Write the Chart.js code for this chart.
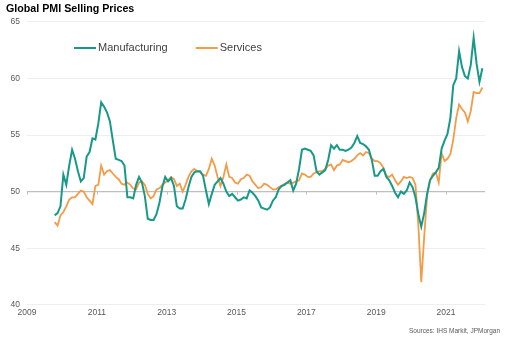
<!DOCTYPE html>
<html>
<head>
<meta charset="utf-8">
<script src="https://cdn.jsdelivr.net/npm/chart.js@4.4.1/dist/chart.umd.min.js"></script>
<style>
  html, body { margin: 0; padding: 0; background: #fff; }
  #wrap { width: 513px; height: 341px; }
</style>
</head>
<body>
<div id="wrap"><canvas id="pmi" width="513" height="341"></canvas></div>
<script>
// Données : indices mensuels, d'octobre 2009 à janvier 2022
const firstYear = 2009;
const firstMonth = 10; // octobre

const manufacturing = [
  47.9, 48.1, 48.7,
  51.5, 50.6, 52.3, 53.7, 52.9, 51.8, 50.9, 51.2, 53.1, 53.5, 54.7, 54.6,
  56.0, 57.9, 57.5, 57.0, 56.2, 54.5, 52.9, 52.8, 52.7, 52.3, 49.5, 49.5,
  49.4, 50.6, 51.3, 50.8, 49.6, 47.6, 47.5, 47.5, 48.0, 49.0, 50.4, 51.3,
  50.9, 51.2, 50.5, 48.7, 48.5, 48.5, 49.3, 50.4, 51.3, 51.7, 51.8, 51.8,
  51.4, 50.1, 48.9, 49.8, 50.6, 50.9, 51.2, 50.7, 50.0, 49.6, 49.8, 49.5,
  49.2, 49.3, 49.5, 49.4, 50.1, 49.9, 49.6, 49.2, 48.6, 48.5, 48.4, 48.6,
  49.2, 49.5, 50.2, 50.5, 50.6, 50.8, 51.0, 50.1, 50.7, 52.0, 53.7, 53.8,
  53.7, 53.6, 53.2, 51.8, 51.5, 51.7, 51.9, 52.8, 54.1, 53.8, 54.1, 53.7,
  53.7, 53.6, 53.7, 53.9, 54.3, 54.9, 54.3, 54.2, 54.0, 53.7, 52.8, 51.4,
  51.4, 51.8, 52.0, 51.3, 51.0, 50.5, 49.9, 49.5, 50.0, 49.8, 50.1, 50.8,
  50.4, 49.5, 48.0, 46.9, 48.1, 49.8, 51.0, 51.4, 51.7, 52.1, 53.8, 54.5,
  55.1, 56.5, 59.4, 60.0, 62.4, 61.0, 60.2, 60.0, 61.2, 63.6, 61.3, 59.7,
  60.9
];

const services = [
  47.3, 47.0, 47.9,
  48.2, 48.7, 49.3, 49.5, 49.5, 49.8, 50.1, 50.0, 49.5, 49.2, 48.9, 50.5,
  50.6, 52.3, 51.5, 51.8, 51.9, 51.6, 51.3, 51.1, 50.7, 50.6, 50.8, 50.6,
  50.3, 50.2, 50.8, 50.9, 50.6, 49.8, 49.4, 49.6, 50.2, 50.3, 50.6, 50.8,
  51.0, 51.3, 51.1, 50.5, 50.7, 50.0, 50.6, 51.3, 51.8, 52.0, 51.8, 51.7,
  51.5, 51.4, 52.0, 52.9, 52.3, 51.3, 50.5, 51.3, 52.4, 51.3, 51.2, 50.8,
  50.7, 51.1, 51.2, 51.5, 51.4, 50.9, 50.6, 50.3, 50.4, 50.7, 50.6, 50.4,
  50.2, 50.2, 50.4, 50.5, 50.7, 50.8, 50.7, 50.8, 50.9, 51.0, 51.6, 51.5,
  51.3, 51.3, 51.6, 51.7, 51.8, 51.8, 52.0, 52.3, 52.4, 51.9, 52.3, 52.4,
  52.8, 52.7, 52.6, 52.7, 52.9, 53.2, 53.4, 53.2, 53.5, 53.4, 52.9, 52.7,
  52.7, 52.5, 52.1, 51.4, 51.3, 51.5, 51.0, 50.6, 50.9, 51.3, 51.2, 51.3,
  51.2, 50.6, 47.0, 42.0, 46.0, 49.6, 51.0, 51.6, 51.7, 50.8, 53.4, 52.7,
  52.9, 53.3, 54.6, 56.5, 57.7, 57.3, 57.0, 56.2, 57.1, 58.8, 58.7, 58.7,
  59.2
];

// Étiquettes de l'axe horizontal
const yearTicks = [2009, 2011, 2013, 2015, 2017, 2019, 2021];
const xEnd = 157.4; // fin de l'axe, en mois depuis janvier 2009

const seriesLabels = ["Manufacturing", "Services"];
const seriesColors = ["#17998a", "#f39c48"];

const fontFamily = "'Liberation Sans', Arial, sans-serif";

// Points placés au milieu de chaque mois
function toPoints(values) {
  const start = (firstMonth - 1);
  return values.map((v, i) => ({ x: start + i + 0.5, y: v }));
}

// Légende dans la zone du graphique + source + graduations sur l'axe à 50
const extras = {
  id: 'extras',
  afterDatasetsDraw(chart) {
    const ctx = chart.ctx;
    const x = chart.scales.x;
    const y = chart.scales.y;

    // Petites graduations sur la ligne 50
    const y50 = y.getPixelForValue(50);
    ctx.save();
    ctx.strokeStyle = '#bfbfbf';
    ctx.lineWidth = 1;
    yearTicks.forEach(yr => {
      const px = Math.round(x.getPixelForValue((yr - firstYear) * 12)) + 0.5;
      ctx.beginPath();
      ctx.moveTo(px, y50);
      ctx.lineTo(px, y50 + 3);
      ctx.stroke();
    });

    // Légende
    ctx.font = "11px " + fontFamily;
    ctx.textBaseline = 'middle';
    ctx.textAlign = 'left';
    let lx = 74;
    const ly = 48;
    chart.data.datasets.forEach(ds => {
      ctx.strokeStyle = ds.borderColor;
      ctx.lineWidth = 2;
      ctx.beginPath();
      ctx.moveTo(lx, ly);
      ctx.lineTo(lx + 22, ly);
      ctx.stroke();
      ctx.fillStyle = '#404040';
      ctx.fillText(ds.label, lx + 24, ly);
      lx += 24 + ctx.measureText(ds.label).width + 28;
    });

    // Source
    ctx.font = "6.5px " + fontFamily;
    ctx.fillStyle = '#595959';
    ctx.textAlign = 'right';
    ctx.fillText('Sources: IHS Markit, JPMorgan', 500, 331);
    ctx.restore();
  }
};

new Chart(document.getElementById('pmi'), {
  type: 'line',
  data: {
    datasets: [
      {
        label: seriesLabels[0],
        data: toPoints(manufacturing),
        borderColor: seriesColors[0],
        backgroundColor: seriesColors[0],
        borderWidth: 2,
        pointRadius: 0,
        tension: 0,
        fill: false
      },
      {
        label: seriesLabels[1],
        data: toPoints(services),
        borderColor: seriesColors[1],
        backgroundColor: seriesColors[1],
        borderWidth: 1.8,
        pointRadius: 0,
        tension: 0,
        fill: false
      }
    ]
  },
  options: {
    responsive: false,
    animation: false,
    devicePixelRatio: 1,
    layout: {
      padding: { left: 6, right: 28, top: 0, bottom: 20 }
    },
    plugins: {
      legend: { display: false },
      tooltip: { enabled: false },
      title: {
        display: true,
        text: 'Global PMI Selling Prices',
        align: 'start',
        color: '#000',
        font: { family: fontFamily, size: 10.7, weight: 'bold' },
        padding: { top: 3, bottom: 6 }
      }
    },
    scales: {
      x: {
        type: 'linear',
        min: 0,
        max: xEnd,
        afterBuildTicks(axis) {
          axis.ticks = yearTicks.map(yr => ({ value: (yr - firstYear) * 12 }));
        },
        ticks: {
          autoSkip: false,
          maxRotation: 0,
          padding: 3,
          color: '#595959',
          font: { family: fontFamily, size: 8.5 },
          callback: v => String(firstYear + Math.round(v / 12))
        },
        grid: { display: false, drawTicks: false },
        border: { display: false }
      },
      y: {
        min: 40,
        max: 65,
        afterFit(axis) { axis.width = 21; },
        ticks: {
          stepSize: 5,
          padding: 7,
          color: '#595959',
          font: { family: fontFamily, size: 8.5 }
        },
        grid: {
          drawTicks: false,
          color: ctx => ctx.tick && ctx.tick.value === 50 ? '#bfbfbf' : '#eeeeee',
          lineWidth: ctx => ctx.tick && ctx.tick.value === 50 ? 1.2 : 1
        },
        border: { display: false }
      }
    }
  },
  plugins: [extras]
});
</script>
</body>
</html>
